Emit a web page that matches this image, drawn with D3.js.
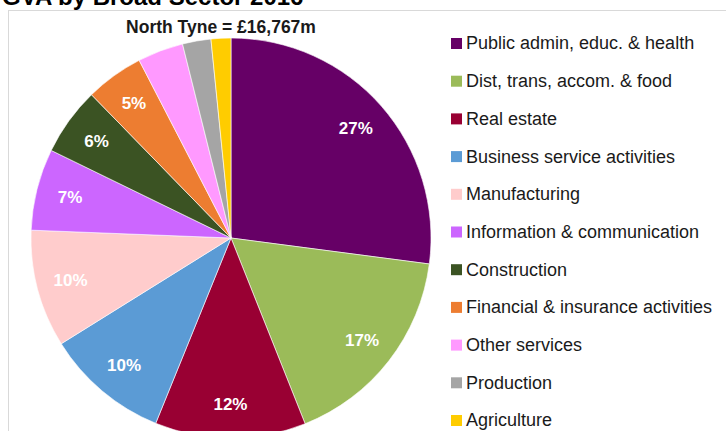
<!DOCTYPE html>
<html>
<head>
<meta charset="utf-8">
<style>
body{ margin:0; background:#fff; }
svg{ display:block; font-family:"Liberation Sans", Arial, sans-serif; }
.legend text{ font-size:18px; fill:#1a1a1a; }
.labels text{ font-size:17px; font-weight:bold; fill:#fff; }
</style>
</head>
<body>
<script src="https://cdn.jsdelivr.net/npm/d3@7"></script>
<script>
  var WIDTH = 726;
  var HEIGHT = 431;

  var sectors = ["Public admin, educ. & health", "Dist, trans, accom. & food", "Real estate",
    "Business service activities", "Manufacturing", "Information & communication",
    "Construction", "Financial & insurance activities", "Other services", "Production", "Agriculture"];
  var shares = [27.1, 16.9, 12.2, 10.0, 9.5, 6.6, 5.5, 4.7, 3.7, 2.3, 1.6];
  var labels = ["27%", "17%", "12%", "10%", "10%", "7%", "6%", "5%", "", "", ""];
  var colours = ["#660066", "#9bbb59", "#990033", "#5b9bd5", "#ffcccc", "#cc66ff",
    "#3b5323", "#ed7d31", "#ff99ff", "#a5a5a5", "#ffcc00"];

  var CX = 231, CY = 238, R = 200;

  var svg = d3.select("body").append("svg")
    .attr("width", WIDTH)
    .attr("height", HEIGHT);

  // chart frame, runs off the page
  svg.append("rect")
    .attr("x", 8.5).attr("y", 10.5)
    .attr("width", 760).attr("height", 460)
    .attr("fill", "none")
    .attr("stroke", "#d9d9d9");

  svg.append("text")
    .attr("x", 2).attr("y", 5)
    .style("font-size", "24px").style("font-weight", "bold")
    .text("GVA by Broad Sector 2016");

  svg.append("text")
    .attr("x", 221).attr("y", 33)
    .attr("text-anchor", "middle")
    .style("font-size", "17.5px").style("font-weight", "bold")
    .attr("fill", "#1a1a1a")
    .text("North Tyne = £16,767m");

  var color = d3.scaleOrdinal().domain(sectors).range(colours);

  var pie = d3.pie().sort(null).value(function(d, i){ return shares[i]; });
  var arcs = pie(sectors);

  var arc = d3.arc().innerRadius(0).outerRadius(R);
  var labelArc = d3.arc().innerRadius(R * 0.83).outerRadius(R * 0.83);

  var g = svg.append("g").attr("transform", `translate(${CX},${CY})`);

  g.selectAll("path.slice")
    .data(arcs)
    .enter()
    .append("path")
      .attr("class", "slice")
      .attr("d", arc)
      .attr("fill", function(d){ return color(d.data); })
      .attr("stroke", "#fff")
      .attr("stroke-width", 0.6);

  g.append("g").attr("class", "labels")
    .selectAll("text")
    .data(arcs)
    .enter()
    .append("text")
      .attr("transform", function(d){ return `translate(${labelArc.centroid(d)})`; })
      .attr("text-anchor", "middle")
      .attr("dy", "0.35em")
      .text(function(d, i){ return labels[i]; });

  var legendY = d3.scalePoint().domain(sectors).range([43, 420]);

  var legend = svg.append("g").attr("class", "legend")
    .selectAll("g")
    .data(sectors)
    .enter()
    .append("g")
      .attr("transform", function(d){ return `translate(451,${legendY(d)})`; });

  legend.append("rect")
    .attr("x", 0).attr("y", -5)
    .attr("width", 11).attr("height", 11)
    .attr("fill", function(d){ return color(d); });

  legend.append("text")
    .attr("x", 15).attr("dy", "0.36em")
    .text(function(d){ return d; });
</script>
</body>
</html>
